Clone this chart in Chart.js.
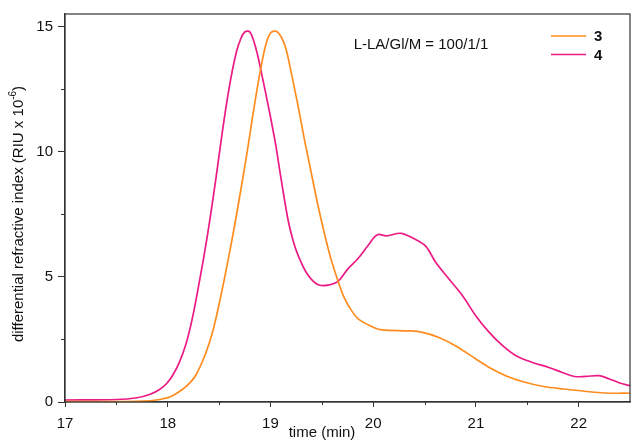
<!DOCTYPE html>
<html>
<head>
<meta charset="utf-8">
<script src="https://cdn.jsdelivr.net/npm/chart.js@4.4.1/dist/chart.umd.min.js"></script>
<style>
  html, body { margin: 0; padding: 0; background: #fff; }
  canvas { display: block; }
</style>
</head>
<body>
<canvas id="gpc" width="632" height="441"></canvas>
<script>
// sample 3: elution time (min) and RI signal
const time3 = [17.0, 17.5, 17.83, 17.92, 18.02, 18.10, 18.18, 18.27, 18.37, 18.44, 18.51, 18.57, 18.64, 18.70, 18.77, 18.83, 18.90, 18.96, 19.01, 19.07, 19.14, 19.20, 19.27, 19.33, 19.40, 19.46, 19.53, 19.59, 19.66, 19.72, 19.79, 19.86, 20.01, 20.09, 20.35, 20.48, 20.64, 20.80, 21.0, 21.13, 21.29, 21.46, 21.66, 21.86, 22.06, 22.25, 22.5];
const signal3 = [0.02, 0.02, 0.05, 0.1, 0.2, 0.38, 0.62, 1.05, 1.95, 2.85, 4.1, 5.3, 6.8, 8.2, 9.9, 11.5, 13.2, 14.35, 14.78, 14.78, 14.25, 13.2, 11.8, 10.5, 9.1, 7.9, 6.65, 5.7, 4.8, 4.15, 3.65, 3.3, 2.97, 2.88, 2.84, 2.78, 2.58, 2.25, 1.72, 1.38, 1.05, 0.81, 0.62, 0.52, 0.43, 0.36, 0.35];

// sample 4
const time4 = [17.0, 17.5, 17.7, 17.83, 17.92, 17.99, 18.05, 18.11, 18.18, 18.24, 18.31, 18.37, 18.42, 18.47, 18.52, 18.57, 18.62, 18.67, 18.71, 18.75, 18.80, 18.86, 18.92, 18.99, 19.05, 19.10, 19.17, 19.22, 19.27, 19.36, 19.46, 19.56, 19.66, 19.75, 19.85, 19.95, 20.04, 20.13, 20.27, 20.38, 20.51, 20.61, 20.74, 20.87, 21.0, 21.13, 21.26, 21.39, 21.55, 21.71, 21.84, 21.96, 22.07, 22.20, 22.30, 22.40, 22.5];
const signal4 = [0.08, 0.1, 0.17, 0.31, 0.5, 0.74, 1.08, 1.55, 2.35, 3.35, 4.85, 6.25, 7.55, 8.95, 10.45, 11.85, 13.05, 14.0, 14.5, 14.78, 14.78, 14.1, 13.0, 11.6, 10.3, 9.0, 7.3, 6.45, 5.85, 5.1, 4.69, 4.67, 4.83, 5.3, 5.72, 6.25, 6.68, 6.64, 6.74, 6.56, 6.23, 5.57, 4.9, 4.24, 3.44, 2.78, 2.25, 1.85, 1.58, 1.38, 1.18, 1.02, 1.02, 1.05, 0.92, 0.76, 0.65];

const seriesLabels = ['3', '4'];
const seriesColors = ['#ff8c1f', '#ec1a84'];
const xMinorTicks = [17.5, 18.5, 19.5, 20.5, 21.5];
const yMinorTicks = [2.5, 7.5, 12.5];
const ratioText = 'L-LA/Gl/M = 100/1/1';

const FONT = '"Liberation Sans", Arial, Helvetica, sans-serif';
const AXIS = '#333';

function toPoints(xs, ys) {
  return xs.map((x, i) => ({ x: x, y: ys[i] }));
}

// frame, minor ticks, titles and the legend
const decorations = {
  id: 'decorations',
  afterDraw(chart) {
    const ctx = chart.ctx;
    const a = chart.chartArea;
    const xs = chart.scales.x, ys = chart.scales.y;
    ctx.save();
    ctx.strokeStyle = AXIS;
    ctx.lineWidth = 1.2;
    ctx.strokeRect(a.left, a.top, a.right - a.left, a.bottom - a.top);

    ctx.lineWidth = 1;
    ctx.beginPath();
    xMinorTicks.forEach(v => {
      const px = Math.round(xs.getPixelForValue(v)) + 0.5;
      ctx.moveTo(px, a.bottom);
      ctx.lineTo(px, a.bottom + 3);
    });
    yMinorTicks.forEach(v => {
      const py = Math.round(ys.getPixelForValue(v)) + 0.5;
      ctx.moveTo(a.left, py);
      ctx.lineTo(a.left - 4, py);
    });
    ctx.stroke();

    ctx.fillStyle = '#111';
    ctx.font = '15px ' + FONT;
    ctx.textBaseline = 'middle';
    ctx.textAlign = 'center';
    ctx.fillText('time (min)', 322, 433);
    ctx.fillText(ratioText, 421, 45);

    // y title with superscript exponent
    const main = 'differential refractive index (RIU x 10';
    const sup = '-6';
    ctx.translate(19, 214);
    ctx.rotate(-Math.PI / 2);
    ctx.font = '15px ' + FONT;
    const w1 = ctx.measureText(main).width;
    ctx.font = '10px ' + FONT;
    const w2 = ctx.measureText(sup).width;
    ctx.font = '15px ' + FONT;
    const w3 = ctx.measureText(')').width;
    const x0 = -(w1 + w2 + w3) / 2;
    ctx.textAlign = 'left';
    ctx.fillText(main, x0, 0);
    ctx.font = '10px ' + FONT;
    ctx.fillText(sup, x0 + w1, -6);
    ctx.font = '15px ' + FONT;
    ctx.fillText(')', x0 + w1 + w2, 0);
    ctx.setTransform(1, 0, 0, 1, 0, 0);

    // legend
    ctx.font = 'bold 15px ' + FONT;
    ctx.textAlign = 'left';
    chart.data.datasets.forEach((ds, i) => {
      const y = 36 + i * 18.5;
      ctx.strokeStyle = ds.borderColor;
      ctx.lineWidth = 1.6;
      ctx.beginPath();
      ctx.moveTo(551, y);
      ctx.lineTo(586, y);
      ctx.stroke();
      ctx.fillStyle = '#111';
      ctx.fillText(ds.label, 594, y + 1);
    });
    ctx.restore();
  }
};

new Chart(document.getElementById('gpc'), {
  type: 'line',
  data: {
    datasets: [
      { label: seriesLabels[0], data: toPoints(time3, signal3), borderColor: seriesColors[0] },
      { label: seriesLabels[1], data: toPoints(time4, signal4), borderColor: seriesColors[1] }
    ]
  },
  options: {
    responsive: false,
    animation: false,
    devicePixelRatio: 1,
    layout: { padding: { left: 0, right: 2, top: 13, bottom: 0 } },
    elements: {
      point: { radius: 0 },
      line: { borderWidth: 1.7, tension: 0.35, fill: false }
    },
    plugins: {
      legend: { display: false },
      tooltip: { enabled: false }
    },
    scales: {
      x: {
        type: 'linear',
        min: 17,
        max: 22.5,
        afterFit: s => { s.height = 39; },
        border: { display: true, color: AXIS, width: 1.2 },
        grid: { drawOnChartArea: false, drawTicks: true, tickLength: 5, color: AXIS },
        ticks: {
          stepSize: 1,
          includeBounds: false,
          padding: 8,
          color: '#111',
          font: { family: FONT, size: 15 },
          maxRotation: 0
        }
      },
      y: {
        min: 0,
        max: 15.5,
        afterFit: s => { s.width = 65; },
        border: { display: true, color: AXIS, width: 1.2 },
        grid: { drawOnChartArea: false, drawTicks: true, tickLength: 7, color: AXIS },
        ticks: {
          stepSize: 5,
          includeBounds: false,
          padding: 5,
          color: '#111',
          font: { family: FONT, size: 15 }
        }
      }
    }
  },
  plugins: [decorations]
});
</script>
</body>
</html>
